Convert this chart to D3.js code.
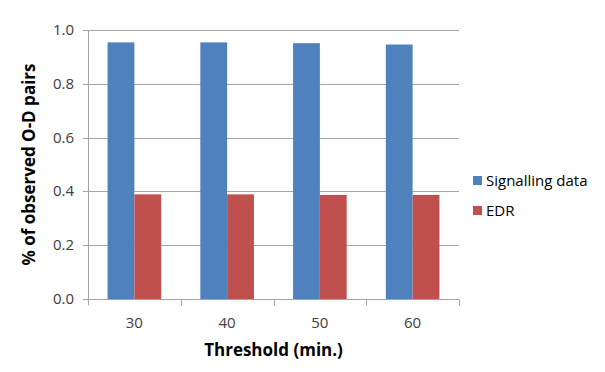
<!DOCTYPE html>
<html>
<head>
<meta charset="utf-8">
<script src="https://cdn.jsdelivr.net/npm/d3@7"></script>
<style>
  body { margin: 0; background: #fff; }
  text { font-family: "Open Sans", "Liberation Sans", sans-serif; fill: #404040; }
</style>
</head>
<body>
<div id="chart"></div>
<script>
var categories = ["30", "40", "50", "60"];
var seriesNames = ["Signalling data", "EDR"];
var signalling = [0.954, 0.954, 0.951, 0.946];
var edr = [0.389, 0.389, 0.387, 0.387];
var yTicks = [0, 0.2, 0.4, 0.6, 0.8, 1.0];
var colors = ["#4F81BD", "#C0504D"];

var W = 605, H = 372;
var m = {left: 88, right: 146, top: 30, bottom: 73};

var svg = d3.select("#chart").append("svg")
  .attr("width", W).attr("height", H);

var x = d3.scaleBand().domain(categories)
  .range([m.left, W - m.right]);
var inner = d3.scaleBand().domain(seriesNames)
  .range([0, x.bandwidth()]).paddingOuter(0.73);
var y = d3.scaleLinear().domain([0, 1]).range([H - m.bottom, m.top]);

// gridlines
svg.append("g").selectAll("line").data(yTicks).enter().append("line")
  .attr("x1", m.left - 5).attr("x2", W - m.right)
  .attr("y1", function(d){ return Math.round(y(d)) + 0.5; })
  .attr("y2", function(d){ return Math.round(y(d)) + 0.5; })
  .attr("stroke", "#a6a6a6").attr("stroke-width", 1);

// y axis line
svg.append("line")
  .attr("x1", m.left + 0.5).attr("x2", m.left + 0.5)
  .attr("y1", y(1)).attr("y2", y(0))
  .attr("stroke", "#a6a6a6");

// bars
var rows = categories.map(function(c, i){
  return {cat: c, vals: [signalling[i], edr[i]]};
});
var groups = svg.append("g").selectAll("g").data(rows).enter().append("g")
  .attr("transform", function(d){ return "translate(" + x(d.cat) + ",0)"; });
groups.selectAll("rect").data(function(d){
    return d.vals.map(function(v, j){ return {name: seriesNames[j], v: v, j: j}; });
  }).enter().append("rect")
  .attr("x", function(d){ return inner(d.name); })
  .attr("width", inner.bandwidth())
  .attr("y", function(d){ return y(d.v); })
  .attr("height", function(d){ return y(0) - y(d.v); })
  .attr("fill", function(d){ return colors[d.j]; });

// x axis
var xAxis = svg.append("g")
  .attr("transform", "translate(0," + (Math.round(y(0)) + 0.5) + ")");
xAxis.append("line").attr("x1", m.left).attr("x2", W - m.right)
  .attr("stroke", "#a6a6a6");
var xt = x.domain().map(function(c){ return x(c); }).concat([W - m.right]);
xAxis.selectAll("line.tick").data(xt).enter().append("line")
  .attr("class", "tick")
  .attr("x1", function(d){ return Math.round(d) + 0.5; })
  .attr("x2", function(d){ return Math.round(d) + 0.5; })
  .attr("y1", 0).attr("y2", 6)
  .attr("stroke", "#a6a6a6");
xAxis.selectAll("text").data(categories).enter().append("text")
  .attr("x", function(d){ return x(d) + x.bandwidth() / 2; })
  .attr("y", 28)
  .attr("text-anchor", "middle")
  .style("font-size", "15px")
  .text(function(d){ return d; });

// y labels
svg.append("g").selectAll("text").data(yTicks).enter().append("text")
  .attr("x", m.left - 14)
  .attr("y", function(d){ return y(d) + 5; })
  .attr("text-anchor", "end")
  .style("font-size", "15px")
  .text(function(d){ return d3.format(".1f")(d); });

// axis titles
svg.append("text")
  .attr("transform", "translate(35," + ((y(0) + y(1)) / 2) + ") rotate(-90)")
  .attr("text-anchor", "middle")
  .style("font-size", "17px").style("font-weight", "bold")
  .style("fill", "#000")
  .text("% of observed O-D pairs");
svg.append("text")
  .attr("x", (m.left + W - m.right) / 2).attr("y", 356)
  .attr("text-anchor", "middle")
  .style("font-size", "17px").style("font-weight", "bold")
  .style("fill", "#000")
  .text("Threshold (min.)");

// legend
var leg = svg.append("g").attr("transform", "translate(473,176)");
var li = leg.selectAll("g").data(seriesNames).enter().append("g")
  .attr("transform", function(d, i){ return "translate(0," + (i * 30) + ")"; });
li.append("rect").attr("width", 9).attr("height", 9)
  .attr("fill", function(d, i){ return colors[i]; });
li.append("text").attr("x", 13).attr("y", 10)
  .style("font-size", "15px").style("fill", "#000")
  .text(function(d){ return d; });
</script>
</body>
</html>
